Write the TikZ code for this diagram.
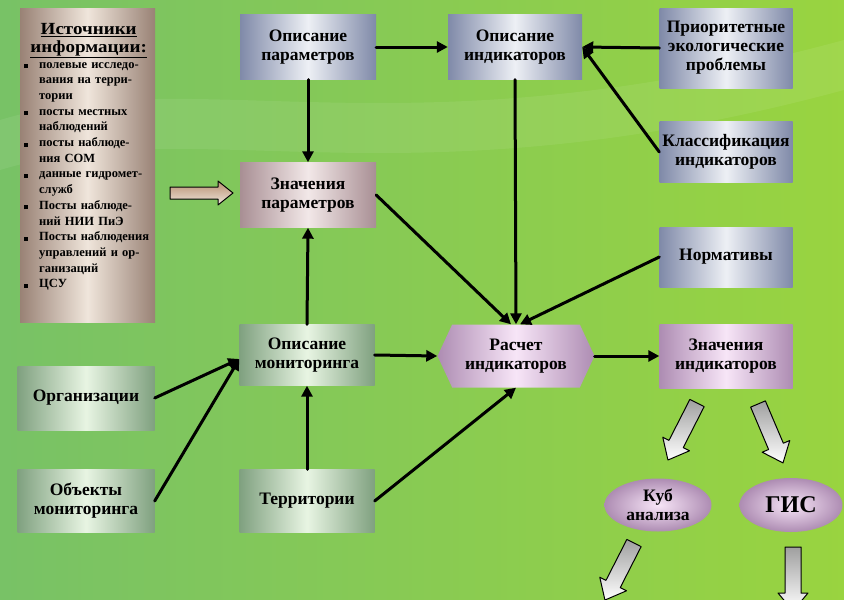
\documentclass[tikz,border=0pt]{standalone}
\usepackage{fontspec}
\setmainfont{Liberation Serif}
\usetikzlibrary{arrows.meta,shapes.geometric,shapes.symbols}
\definecolor{ggccgg}{rgb}{0.47,0.76,0.40}
\definecolor{ggddqq}{rgb}{0.60,0.83,0.25}
\definecolor{ppqqbb}{rgb}{0.50,0.54,0.66}
\definecolor{eeeeff}{rgb}{0.93,0.94,0.96}
\definecolor{ccaabb}{rgb}{0.66,0.56,0.58}
\definecolor{ffeeee}{rgb}{0.95,0.91,0.91}
\definecolor{bb99cc}{rgb}{0.68,0.55,0.70}
\definecolor{ffeeff}{rgb}{0.97,0.90,0.97}
\definecolor{uuaauu}{rgb}{0.50,0.63,0.50}
\definecolor{eeffee}{rgb}{0.91,0.96,0.89}
\definecolor{ttuuvv}{rgb}{0.60,0.51,0.46}
\definecolor{ffeedd}{rgb}{0.94,0.90,0.86}
\definecolor{ccaa88}{rgb}{0.72,0.56,0.44}

\begin{document}
\begin{tikzpicture}[x=1pt,y=-1pt,line cap=round,line join=round,
  box/.style={rectangle,inner sep=2pt,align=center,font=\bfseries\fontsize{17.5}{19}\selectfont},
  steel/.style={box,left color=ppqqbb,right color=ppqqbb,middle color=eeeeff},
  rosy/.style={box,left color=ccaabb,right color=ccaabb,middle color=ffeeee},
  lilac/.style={box,left color=bb99cc,right color=bb99cc,middle color=ffeeff},
  sage/.style={box,left color=uuaauu,right color=uuaauu,middle color=eeffee},
  link/.style={line width=3pt,-{Triangle[length=11pt,width=11pt]}},
  fatarrow/.style={draw=black,line width=1pt,top color=gray!75,bottom color=white}]
  \useasboundingbox (0,0) rectangle (844,600);
  \fill[left color=ggccgg,right color=ggddqq] (0,0) rectangle (844,600);
  \fill[white,opacity=0.07] (0,120) .. controls (200,60) and (400,160) .. (844,40) -- (844,90) .. controls (400,210) and (200,110) .. (0,170) -- cycle;
  \fill[left color=ttuuvv,right color=ttuuvv,middle color=ffeedd] (20,8) rectangle (155,322);
  \node[text width=133pt,align=left,anchor=north west,inner sep=3pt,font=\bfseries\fontsize{12.5}{15.7}\selectfont] (src) at (19,20) {%
    {\centering\fontsize{17}{18}\selectfont\addfontfeatures{FakeStretch=1.12}\underline{Источники}\\\underline{информации:}\par}
    \hangindent=17pt\hangafter=1\noindent\makebox[17pt][l]{\,\rule{4pt}{4pt}}полевые исследо-\newline вания на терри-\newline тории\par
    \hangindent=17pt\hangafter=1\noindent\makebox[17pt][l]{\,\rule{4pt}{4pt}}посты местных\newline наблюдений\par
    \hangindent=17pt\hangafter=1\noindent\makebox[17pt][l]{\,\rule{4pt}{4pt}}посты наблюде-\newline ния СОМ\par
    \hangindent=17pt\hangafter=1\noindent\makebox[17pt][l]{\,\rule{4pt}{4pt}}данные гидромет-\newline служб\par
    \hangindent=17pt\hangafter=1\noindent\makebox[17pt][l]{\,\rule{4pt}{4pt}}Посты наблюде-\newline ний НИИ ПиЭ\par
    \hangindent=17pt\hangafter=1\noindent\makebox[17pt][l]{\,\rule{4pt}{4pt}}Посты наблюдения\newline управлений и ор-\newline ганизаций\par
    \hangindent=17pt\hangafter=1\noindent\makebox[17pt][l]{\,\rule{4pt}{4pt}}ЦСУ\par};
  \node[steel,minimum width=136pt,minimum height=65pt] (oppar) at (308,47) {Описание\\параметров};
  \node[steel,minimum width=134pt,minimum height=65pt] (opind) at (515,47) {Описание\\индикаторов};
  \node[steel,minimum width=133pt,minimum height=80pt] (prior) at (726,48) {Приоритетные\\экологические\\проблемы};
  \node[steel,minimum width=133pt,minimum height=61pt] (klass) at (726,152) {Классификация\\индикаторов};
  \node[rosy,minimum width=136pt,minimum height=65pt] (znpar) at (308,195) {Значения\\параметров};
  \node[steel,minimum width=133pt,minimum height=60pt] (norm) at (726,257) {Нормативы};
  \node[sage,minimum width=135pt,minimum height=61pt] (opmon) at (307,355) {Описание\\мониторинга};
  \node[lilac,signal,signal to=east and west,signal pointer angle=130,minimum width=157pt,minimum height=63pt,inner sep=0pt] (rasch) at (516,356) {Расчет\\индикаторов};
  \node[lilac,minimum width=133pt,minimum height=64pt] (znind) at (726,356) {Значения\\индикаторов};
  \node[sage,minimum width=137pt,minimum height=64pt] (org) at (86,398) {Организации};
  \node[sage,minimum width=137pt,minimum height=63pt] (obj) at (86,501) {Объекты\\мониторинга};
  \node[sage,minimum width=135pt,minimum height=63pt] (terr) at (307,501) {Территории};
  \node[box,ellipse,inner sep=0pt,minimum width=107pt,minimum height=53pt,inner color=ffeeff,outer color=bb99cc] (kub) at (658,505) {Куб\\анализа};
  \node[box,ellipse,inner sep=0pt,minimum width=103pt,minimum height=54pt,inner color=ffeeff,outer color=bb99cc,font=\bfseries\fontsize{24}{26}\selectfont] (gis) at (791,505) {ГИС};
  \draw[fatarrow,top color=ccaa88,bottom color=ffeedd,shift={(170,193)}] (0,-6)--(48,-6)--(48,-12)--(63,0)--(48,12)--(48,6)--(0,6)--cycle;
  \draw[fatarrow,shift={(697,403)},rotate=243] (0,-8)--(46,-8)--(46,-15)--(64,0)--(46,15)--(46,8)--(0,8)--cycle;
  \draw[fatarrow,shift={(758,404)},rotate=293] (0,-8)--(46,-8)--(46,-15)--(64,0)--(46,15)--(46,8)--(0,8)--cycle;
  \draw[fatarrow,shift={(634,543)},rotate=243] (0,-8)--(46,-8)--(46,-15)--(64,0)--(46,15)--(46,8)--(0,8)--cycle;
  \draw[fatarrow,shift={(793,547)},rotate=270] (0,-8)--(46,-8)--(46,-15)--(64,0)--(46,15)--(46,8)--(0,8)--cycle;
  \draw[link] (oppar.east) -- (opind.west);
  \draw[link] (prior.west) -- (opind.east);
  \draw[link] (klass.west) -- (opind.east);
  \draw[link] (oppar.south) -- (znpar.north);
  \draw[link] (opmon.north) -- (znpar.south);
  \draw[link] (znpar.east) -- ([xshift=-5pt]rasch.north);
  \draw[link] (opind.south) -- (rasch.north);
  \draw[link] (norm.west) -- ([xshift=4pt]rasch.north);
  \draw[link] (opmon.east) -- (rasch.west);
  \draw[link] (org.east) -- ([yshift=-4pt]opmon.west);
  \draw[link] (obj.east) -- ([yshift=-4pt]opmon.west);
  \draw[link] (terr.north) -- (opmon.south);
  \draw[link] (terr.east) -- (rasch.south);
  \draw[link] (rasch.east) -- (znind.west);
\end{tikzpicture}
\end{document}
